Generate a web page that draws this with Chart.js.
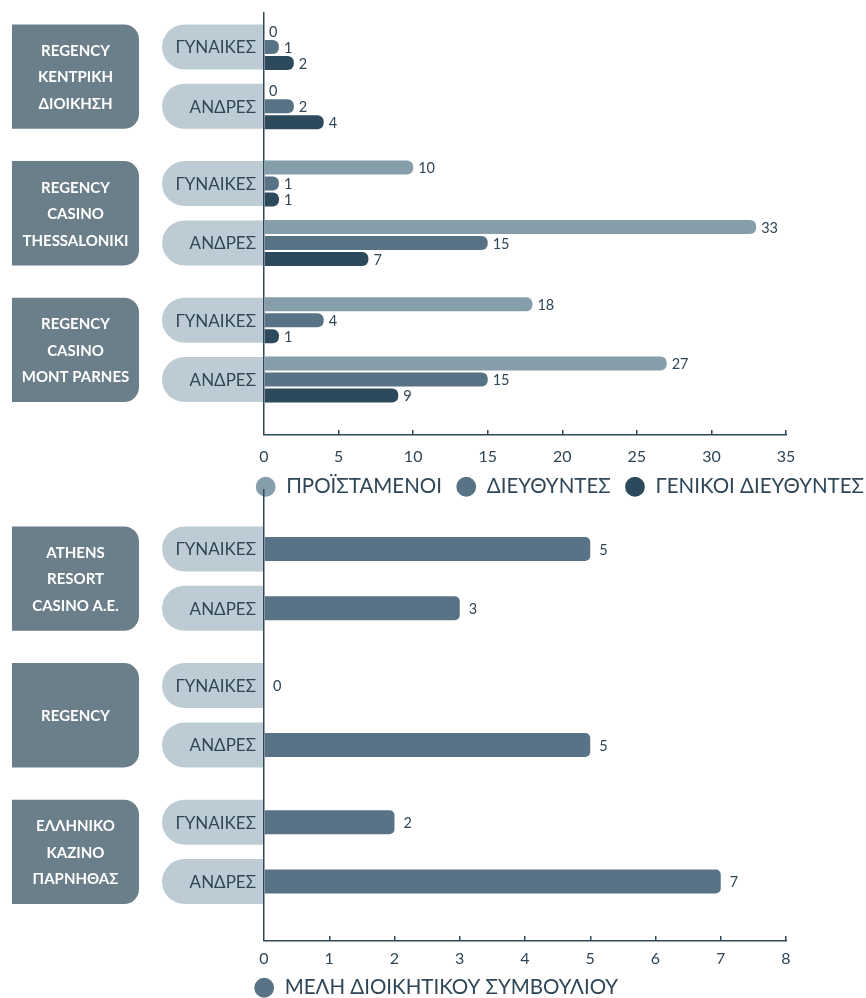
<!DOCTYPE html>
<html><head><meta charset="utf-8">
<script src="https://cdn.jsdelivr.net/npm/chart.js@4"></script>
<style>
html,body{margin:0;padding:0;background:#fff;overflow:hidden;width:866px;height:998px;}
canvas{position:absolute;left:0;}
#c1{top:0;}
#c2{top:480px;}
</style></head><body>
<canvas id="c1" width="866" height="507"></canvas>
<canvas id="c2" width="866" height="528"></canvas>
<script>
// ---------- data ----------
const genders = ['ΓΥΝΑΙΚΕΣ', 'ΑΝΔΡΕΣ'];
const companiesTop = [['REGENCY', 'ΚΕΝΤΡΙΚΗ', 'ΔΙΟΙΚΗΣΗ'], ['REGENCY', 'CASINO', 'THESSALONIKI'], ['REGENCY', 'CASINO', 'MONT PARNES']];
const companiesBottom = [['ATHENS', 'RESORT', 'CASINO A.E.'], ['REGENCY'], ['ΕΛΛΗΝΙΚΟ', 'ΚΑΖΙΝΟ', 'ΠΑΡΝΗΘΑΣ']];
const seriesTop = ['ΠΡΟΪΣΤΑΜΕΝΟΙ', 'ΔΙΕΥΘΥΝΤΕΣ', 'ΓΕΝΙΚΟΙ ΔΙΕΥΘΥΝΤΕΣ'];
// rows: company1 Γ, company1 Α, company2 Γ, company2 Α, company3 Γ, company3 Α
const supervisors = [0, 0, 10, 33, 18, 27];
const directors = [1, 2, 1, 15, 4, 15];
const generalDirectors = [2, 4, 1, 7, 1, 9];
const seriesBottom = 'ΜΕΛΗ ΔΙΟΙΚΗΤΙΚΟΥ ΣΥΜΒΟΥΛΙΟΥ';
const boardMembers = [5, 3, 0, 5, 2, 7];
const ticksTop = [0, 5, 10, 15, 20, 25, 30, 35];
const ticksBottom = [0, 1, 2, 3, 4, 5, 6, 7, 8];

// ---------- style ----------
const FONT = "Lato, 'Noto Sans', 'DejaVu Sans', sans-serif";
const C_LIGHT = '#869eaa', C_MID = '#587385', C_DARK = '#2c4a5c';
const C_BOX = '#6a7f8a', C_PILL = '#bdccd4', C_TEXT = '#2e4656', C_AXIS = '#2f4858';
const GROUP_STEP = 2.3;           // row units between company groups
const rowPos = i => Math.floor(i / 2) * GROUP_STEP + (i % 2);
const pts = arr => arr.map((v, i) => ({ x: v, y: rowPos(i) }));

function scalesFor(maxV, tickVals, yMin, yMax, labelPad, labelBand, rightW) {
  const setTicks = s => { s.ticks = tickVals.map(v => ({ value: v })); };
  return {
    x: { type: 'linear', position: 'bottom', min: 0, max: maxV, offset: false, afterBuildTicks: setTicks,
         ticks: { display: false },
         grid: { display: true, drawOnChartArea: false, drawTicks: true, tickLength: 5, color: C_AXIS, lineWidth: 1.5 },
         border: { display: false } },
    x2: { type: 'linear', position: 'bottom', min: 0, max: maxV, offset: false, afterBuildTicks: setTicks,
          afterFit: s => { s.height = labelBand; },
          ticks: { display: true, padding: labelPad, color: C_TEXT, font: { family: FONT, size: 16 }, maxRotation: 0, autoSkip: false },
          grid: { display: false, drawTicks: false, tickLength: 0 },
          border: { display: true, color: C_AXIS, width: 1.5 } },
    y: { type: 'linear', position: 'left', reverse: true, min: yMin, max: yMax, offset: false,
         afterBuildTicks: s => { s.ticks = [{ value: s.min }]; },
         afterFit: s => { s.width = 264; },
         ticks: { display: false },
         grid: { display: false, drawTicks: false, tickLength: 0, offset: false },
         border: { display: true, color: C_AXIS, width: 1.5 } },
    yr: { type: 'linear', position: 'right', min: 0, max: 1, offset: false,
          afterFit: s => { s.width = rightW; },
          ticks: { display: false },
          grid: { display: false, drawTicks: false, tickLength: 0 },
          border: { display: false } }
  };
}

function rr(ctx, x, y, w, h, r) {
  ctx.beginPath();
  if (ctx.roundRect) { ctx.roundRect(x, y, w, h, r); }
  else { ctx.rect(x, y, w, h); }
  ctx.fill();
}

function sidePlugin(companies) {
  return { id: 'side', beforeDraw(chart) {
    const ctx = chart.ctx, ys = chart.scales.y;
    const right = ys.right, PH = 45;
    ctx.save();
    companies.forEach((lines, g) => {
      const yG = ys.getPixelForValue(rowPos(2 * g));
      const yA = ys.getPixelForValue(rowPos(2 * g + 1));
      const top = yG - PH / 2, bottom = yA + PH / 2;
      ctx.fillStyle = C_BOX;
      rr(ctx, 12, top, 127, bottom - top, [0, 15, 15, 0]);
      ctx.fillStyle = '#ffffff';
      ctx.font = 'bold 15px ' + FONT;
      ctx.textAlign = 'center'; ctx.textBaseline = 'middle';
      const mid = (top + bottom) / 2;
      lines.forEach((t, k) => ctx.fillText(t, 75.5, mid + 1 + (k - (lines.length - 1) / 2) * 26.5));
      [yG, yA].forEach((yc, k) => {
        ctx.fillStyle = C_PILL;
        rr(ctx, 162, yc - PH / 2, right - 162, PH, [PH / 2, 0, 0, PH / 2]);
        ctx.fillStyle = C_TEXT;
        ctx.font = '17px ' + FONT;
        ctx.textAlign = 'right'; ctx.textBaseline = 'middle';
        ctx.fillText(genders[k], 256, yc + 1);
      });
    });
    ctx.restore();
  } };
}

function valuePlugin(offset, size) {
  return { id: 'vals', afterDatasetsDraw(chart) {
    const ctx = chart.ctx;
    ctx.save();
    ctx.font = size + 'px ' + FONT;
    ctx.fillStyle = C_TEXT; ctx.textAlign = 'left'; ctx.textBaseline = 'middle';
    chart.data.datasets.forEach((ds, di) => {
      chart.getDatasetMeta(di).data.forEach((el, i) => {
        ctx.fillText(String(ds.data[i].x), el.x + offset, el.y + 1);
      });
    });
    ctx.restore();
  } };
}

const U = 333 / (rowPos(5));
new Chart(document.getElementById('c1'), {
  type: 'bar',
  data: { datasets: [
    { label: seriesTop[0], data: pts(supervisors), backgroundColor: C_LIGHT },
    { label: seriesTop[1], data: pts(directors), backgroundColor: C_MID },
    { label: seriesTop[2], data: pts(generalDirectors), backgroundColor: C_DARK }
  ] },
  options: {
    indexAxis: 'y', responsive: false, animation: false, devicePixelRatio: 1,
    layout: { padding: { top: 13, left: 0, right: -12, bottom: 0 } },
    datasets: { bar: { categoryPercentage: 48 / U, barPercentage: 0.875, borderRadius: 6, borderSkipped: 'start', borderWidth: 0 } },
    scales: scalesFor(35, ticksTop, -(47 - 13) / U, (430 - 47) / U, 12.4, 28, 92),
    plugins: {
      legend: { display: true, position: 'bottom', align: 'end',
        labels: { usePointStyle: true, pointStyle: 'circle', boxWidth: 26, boxHeight: 14, padding: 14, color: C_TEXT, font: { family: FONT, size: 20.5 } } },
      tooltip: { enabled: false }
    }
  },
  plugins: [sidePlugin(companiesTop), valuePlugin(5, 14.5)]
});

new Chart(document.getElementById('c2'), {
  type: 'bar',
  data: { datasets: [
    { label: seriesBottom, data: pts(boardMembers), backgroundColor: C_MID }
  ] },
  options: {
    indexAxis: 'y', responsive: false, animation: false, devicePixelRatio: 1,
    layout: { padding: { top: 10, left: 0, right: -6, bottom: 0 } },
    datasets: { bar: { categoryPercentage: 0.8, barPercentage: 24 / (0.8 * U), borderRadius: 5, borderSkipped: 'start', borderWidth: 0 } },
    scales: scalesFor(8, ticksBottom, -(549 - 490) / U, (936 - 549) / U, 8.4, 27, 86),
    plugins: {
      legend: { display: true, position: 'bottom', align: 'center',
        labels: { usePointStyle: true, pointStyle: 'circle', boxWidth: 26, boxHeight: 14, padding: 10, color: C_TEXT, font: { family: FONT, size: 20.5 } } },
      tooltip: { enabled: false }
    }
  },
  plugins: [sidePlugin(companiesBottom), valuePlugin(9, 14.5)]
});
</script>
</body></html>
